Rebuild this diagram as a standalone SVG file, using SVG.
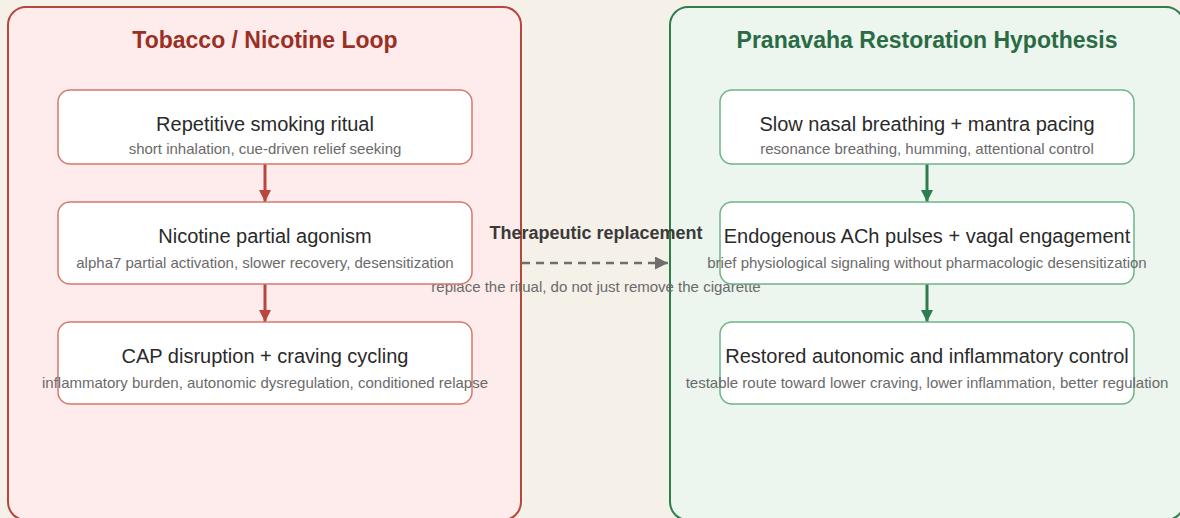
<svg xmlns="http://www.w3.org/2000/svg" width="1180" height="518" viewBox="0 0 1180 518">
<defs>
<style>
.bg{fill:#f5f0e8}
.pl{fill:#fdeceb;stroke:#b8473b;stroke-width:2}
.pr{fill:#ecf5ee;stroke:#2e7d4f;stroke-width:2}
.nl{fill:#ffffff;stroke:#d6786d;stroke-width:1.5}
.nr{fill:#ffffff;stroke:#6fb487;stroke-width:1.5}
.ttl{font-family:"Liberation Sans",Arial,sans-serif;font-size:23px;font-weight:bold;text-anchor:middle}
.h{font-family:"Liberation Sans",Arial,sans-serif;font-size:20px;fill:#2a2a2a;text-anchor:middle}
.s{font-family:"Liberation Sans",Arial,sans-serif;font-size:15px;fill:#6a6a6a;text-anchor:middle}
.el{stroke:#b8473b;stroke-width:3;fill:none}
.er{stroke:#2e7d4f;stroke-width:3;fill:none}
.ed{stroke:#6e6e6e;stroke-width:2.5;fill:none;stroke-dasharray:8 6}
.lb{font-family:"Liberation Sans",Arial,sans-serif;font-size:18px;font-weight:bold;fill:#3a3a3a;text-anchor:middle}
</style>
<marker id="ml" markerWidth="12" markerHeight="12" refX="12" refY="6" orient="auto" markerUnits="userSpaceOnUse"><path d="M0,0 L12,6 L0,12 Z" fill="#b8473b"/></marker>
<marker id="mr" markerWidth="12" markerHeight="12" refX="12" refY="6" orient="auto" markerUnits="userSpaceOnUse"><path d="M0,0 L12,6 L0,12 Z" fill="#2e7d4f"/></marker>
<marker id="md" markerWidth="13" markerHeight="13" refX="13" refY="6.5" orient="auto" markerUnits="userSpaceOnUse"><path d="M0,0 L13,6.5 L0,13 Z" fill="#6e6e6e"/></marker>
</defs>
<rect class="bg" x="0" y="0" width="1180" height="518"/>
<g id="panel-left">
<rect class="pl" x="8" y="7" width="513" height="513" rx="18"/>
<text class="ttl" x="265" y="48" fill="#9b2f24">Tobacco / Nicotine Loop</text>
</g>
<g id="panel-right">
<rect class="pr" x="670" y="7" width="514" height="513" rx="18"/>
<text class="ttl" x="927" y="48" fill="#2a6b44">Pranavaha Restoration Hypothesis</text>
</g>
<g id="connectors">
<line class="el" x1="265" y1="164" x2="265" y2="202" marker-end="url(#ml)"/>
<line class="el" x1="265" y1="284" x2="265" y2="322" marker-end="url(#ml)"/>
<line class="er" x1="927" y1="164" x2="927" y2="202" marker-end="url(#mr)"/>
<line class="er" x1="927" y1="284" x2="927" y2="322" marker-end="url(#mr)"/>
<line class="ed" x1="522" y1="263" x2="668" y2="263" marker-end="url(#md)"/>
<text class="lb" x="596" y="239">Therapeutic replacement</text>
<text class="s" x="596" y="292">replace the ritual, do not just remove the cigarette</text>
</g>
<g id="node-l1">
<rect class="nl" x="58" y="90" width="414" height="74" rx="12"/>
<text class="h" x="265" y="131">Repetitive smoking ritual</text>
<text class="s" x="265" y="154">short inhalation, cue-driven relief seeking</text>
</g>
<g id="node-l2">
<rect class="nl" x="58" y="202" width="414" height="82" rx="12"/>
<text class="h" x="265" y="243">Nicotine partial agonism</text>
<text class="s" x="265" y="268">alpha7 partial activation, slower recovery, desensitization</text>
</g>
<g id="node-l3">
<rect class="nl" x="58" y="322" width="414" height="82" rx="12"/>
<text class="h" x="265" y="363">CAP disruption + craving cycling</text>
<text class="s" x="265" y="388">inflammatory burden, autonomic dysregulation, conditioned relapse</text>
</g>
<g id="node-r1">
<rect class="nr" x="720" y="90" width="414" height="74" rx="12"/>
<text class="h" x="927" y="131">Slow nasal breathing + mantra pacing</text>
<text class="s" x="927" y="154">resonance breathing, humming, attentional control</text>
</g>
<g id="node-r2">
<rect class="nr" x="720" y="202" width="414" height="82" rx="12"/>
<text class="h" x="927" y="243">Endogenous ACh pulses + vagal engagement</text>
<text class="s" x="927" y="268">brief physiological signaling without pharmacologic desensitization</text>
</g>
<g id="node-r3">
<rect class="nr" x="720" y="322" width="414" height="82" rx="12"/>
<text class="h" x="927" y="363">Restored autonomic and inflammatory control</text>
<text class="s" x="927" y="388">testable route toward lower craving, lower inflammation, better regulation</text>
</g>
</svg>
